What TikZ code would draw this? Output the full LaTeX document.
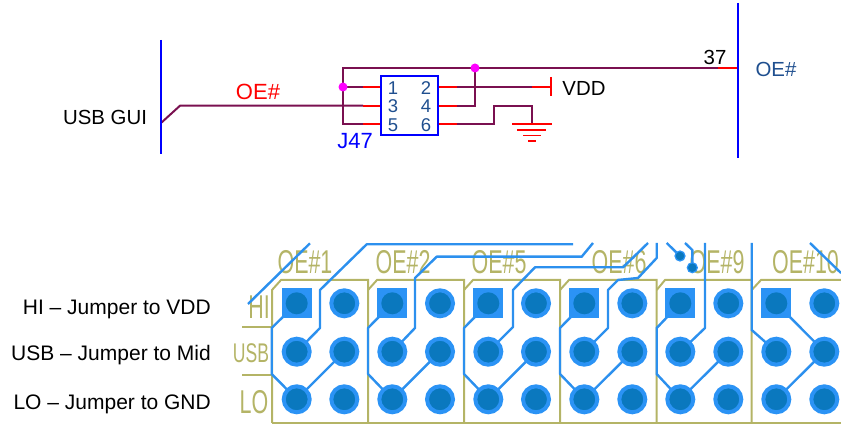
\documentclass[tikz,border=0pt]{standalone}
\usepackage{fontspec}
\setmainfont{Liberation Sans}
\definecolor{wire}{HTML}{7A1050}
\definecolor{txtblue}{HTML}{1F4F8F}
\definecolor{olive}{HTML}{B4B466}
\definecolor{padout}{HTML}{2B93F5}
\definecolor{padin}{HTML}{0A78BE}
\definecolor{trace}{HTML}{2C90EE}
\definecolor{jmag}{HTML}{FF00FF}
\tikzset{
 lab/.style={inner sep=0pt,font=\fontsize{20.4}{22}\selectfont,text=black},
 biglab/.style={inner sep=0pt,font=\fontsize{22}{24}\selectfont},
 sidelab/.style={inner sep=0pt,font=\fontsize{21}{22}\selectfont,text=black,anchor=base east},
 pinnum/.style={inner sep=0pt,font=\fontsize{18.5}{20}\selectfont,text=txtblue},
 wr/.style={draw=wire,line width=2pt},
 stub/.style={draw=red,line width=2pt},
 bus/.style={draw=blue,line width=2pt},
 junc/.style={circle,fill=jmag,inner sep=0pt,minimum size=9pt},
 gndbar/.style={draw=red,line width=1.8pt},
 pad/.style={circle,fill=padin,draw=padout,line width=4pt,inner sep=0pt,outer sep=0pt,minimum size=26pt},
 sqpad/.style={rectangle,fill=padout,inner sep=0pt,minimum size=30pt},
 via/.style={circle,fill=padin,draw=padout,line width=1.2pt,inner sep=0pt,outer sep=0pt,minimum size=10pt},
 tr/.style={draw=trace,line width=2.4pt,line join=round},
 outl/.style={draw=olive,line width=2pt},
 silk/.style={inner sep=0pt,text=olive,font=\fontsize{33}{34}\selectfont,xscale=.65},
 silks/.style={inner sep=0pt,text=olive,font=\fontsize{27}{28}\selectfont,xscale=.65},
}
\begin{document}
\begin{tikzpicture}[x=1pt,y=-1pt]
\useasboundingbox (0,0) rectangle (841,427);
% --- schematic ---
\node[lab] (usbgui) at (105,117) {USB GUI};
\node[biglab,text=red] (oered) at (258,92) {OE\#};
\node[lab] (n37) at (715,57) {37};
\node[lab,text=txtblue] (oeright) at (776,69) {OE\#};
\node[lab] (vdd) at (584,88) {VDD};
\node[biglab,text=blue] (j47) at (355,141) {J47};
\coordinate (b1) at (381,87); \coordinate (b3) at (381,105.7); \coordinate (b5) at (381,124);
\coordinate (b2) at (437.7,87); \coordinate (b4) at (437.7,105.7); \coordinate (b6) at (437.7,124);
\coordinate (s1) at (363,87); \coordinate (s3) at (363,105.7); \coordinate (s5) at (363,124);
\coordinate (s2) at (457,87); \coordinate (s4) at (457,105.7); \coordinate (s6) at (457,124);
\coordinate (jtop) at (475,68); \coordinate (jleft) at (343,87);
\coordinate (vdds) at (532,87); \coordinate (vddb) at (550.5,87);
\coordinate (vt) at (550.5,77); \coordinate (vb) at (550.5,96);
\coordinate (gnd) at (532,124);
\coordinate (lt) at (161,40); \coordinate (lb) at (161,154);
\coordinate (rt) at (738,3); \coordinate (rb) at (738,158);
\coordinate (lw) at (161,123); \coordinate (lk) at (180,105.7);
\coordinate (rs) at (718,68);
\coordinate (rw) at (738,68); \coordinate (ctl) at (343,68); \coordinate (cbl) at (343,124);
\path[wr] (lw) -- (lk) -- (s3);
\path[wr] (rs) -- (ctl) -- (cbl) -- (s5);
\path[wr] (jleft) -- (s1);
\path[wr] (s2) -- (vdds);
\path[wr] (s4) -- (jtop |- s4) -- (jtop);
\path[wr] (s6) -- (494,124) -- (494,105.7) -- (532,105.7) -- (gnd);
\foreach \a in {1,...,6} \path[stub] (s\a) -- (b\a);
\path[stub] (rs) -- (rw);
\path[stub] (vdds) -- (vddb);
\path[stub] (vt) -- (vb);
\path[gndbar] (512,124) -- (552,124);
\path[gndbar] (517,130) -- (546,130);
\path[gndbar] (523,135.5) -- (541,135.5);
\path[gndbar] (528,141) -- (536,141);
\path[bus] (lt) -- (lb);
\path[bus] (rt) -- (rb);
\node[draw=blue,line width=2pt,fill=white,inner sep=0pt,outer sep=0pt,minimum width=56.7pt,minimum height=59pt] (box) at (409.3,105.5) {};
\foreach \n/\x/\y in {1/393/88,3/393/106,5/393/125,2/426/88,4/426/106,6/426/125}
  \node[pinnum] (num\n) at (\x,\y) {\n};
\node[junc] (j1) at (jleft) {};
\node[junc] (j2) at (jtop) {};
% --- left labels ---
\node[sidelab] (hi) at (211,315) {HI – Jumper to VDD};
\node[sidelab] (usb) at (211,361) {USB – Jumper to Mid};
\node[sidelab] (lo) at (211,410) {LO – Jumper to GND};
% --- board ---
\begin{scope}
\clip (230,235) rectangle (841,427);
\node[silk] (t1) at (305,262) {OE\#1};
\node[silk] (t2) at (403,262) {OE\#2};
\node[silk] (t3) at (499,262) {OE\#5};
\node[silk] (t4) at (619,262) {OE\#6};
\node[silk] (t5) at (717,262) {OE\#9};
\node[silk,anchor=west] (t6) at (772,262) {OE\#10};
\node[silk] (shi) at (259,307) {HI};
\node[silks] (susb) at (251,353) {USB};
\node[silk] (slo) at (254,402) {LO};
\path[outl] (242,327) -- (272,327);
\path[outl] (242,375) -- (272,375);
\path[outl] (272,423) -- (841,423);
\path[outl] (272,423) -- (272,290) -- (281,280) -- (368,280) -- (368,423);
\path[outl] (368,290) -- (377,280) -- (464,280) -- (464,423);
\path[outl] (464,290) -- (473,280) -- (560,280) -- (560,423);
\path[outl] (560,290) -- (569,280) -- (656.7,280) -- (656.7,423);
\path[outl] (656.7,290) -- (665,280) -- (751.7,280) -- (751.7,423);
\path[outl] (751.7,290) -- (761,280) -- (841,280);
% pad coordinates (col,row)
\foreach \c/\x in {1/296.7,2/344.3,3/392.3,4/440,5/488.3,6/536,7/584.3,8/632.3,9/680.3,10/728.3,11/776.3,12/824.3}{
  \coordinate (p\c-1) at (\x,303.3);
  \coordinate (p\c-2) at (\x,351.7);
  \coordinate (p\c-3) at (\x,399.3);
}
% repeated loops
\foreach \c/\d/\l in {1/2/271.7,3/4/368,5/6/464,7/8/560,9/10/656.7}{
  \path[tr] (p\c-1) -- (\l,328) -- (\l,374) -- (p\c-3) -- (p\d-2);
}
% traces to the top
\path[tr] (248,304) -- (310,243.3);
\path[tr] (p1-2) -- (320,328) -- (320,290) -- (366.7,244.3) -- (573,244.3);
\path[tr] (p3-2) -- (415,328) -- (415,278) -- (436.7,256.7) -- (581.7,256.7) -- (593,243);
\path[tr] (p5-2) -- (513,327) -- (513,290) -- (535,267.3) -- (623,267.3) -- (648,243);
\path[tr] (p7-2) -- (608,328) -- (608,290) -- (618,280) -- (638,278) -- (656.7,258) -- (656.7,243);
\path[tr] (p9-2) -- (705,328) -- (705,243);
\path[tr] (666.7,243) -- (680,256);
\path[tr] (685,243) -- (692.3,250) -- (692.3,267.7);
\path[tr] (751.7,243) -- (751.7,330) -- (p11-2);
\path[tr] (p11-1) -- (p12-2) -- (p11-3);
\path[tr] (810,243) -- (841,273);
\node[via] (v1) at (680,256) {};
\node[via] (v2) at (692.3,267.7) {};
% square pads
\foreach \c in {1,3,5,7,9,11}
  \node[sqpad] (sq\c) at (p\c-1) {};
\foreach \c in {1,3,5,7,9,11}
  \node[circle,fill=padin,inner sep=0pt,outer sep=0pt,minimum size=22pt] (in\c) at (p\c-1) {};
\foreach \c in {2,4,6,8,10,12}
  \node[pad] (pad\c-1) at (p\c-1) {};
\foreach \c in {1,...,12}{
  \node[pad] (pad\c-2) at (p\c-2) {};
  \node[pad] (pad\c-3) at (p\c-3) {};
}
\end{scope}
\end{tikzpicture}
\end{document}
